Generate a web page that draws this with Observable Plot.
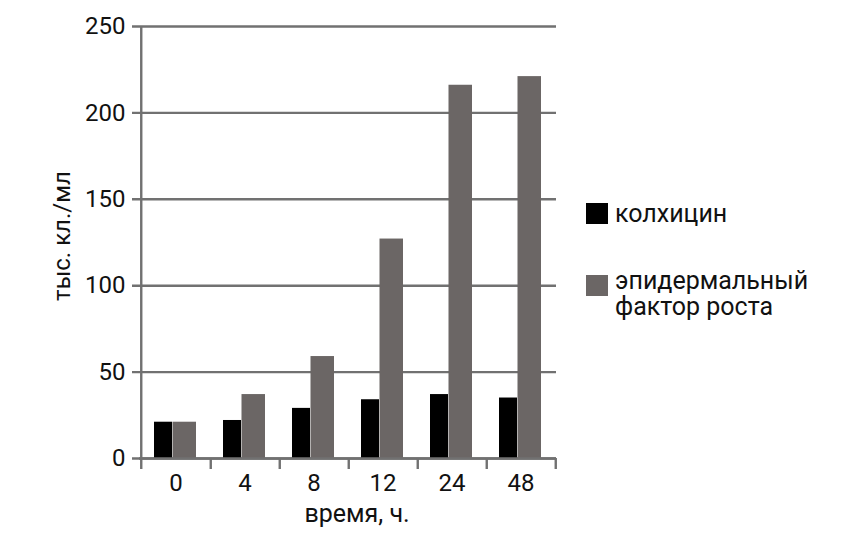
<!DOCTYPE html>
<html>
<head>
<meta charset="utf-8">
<script src="https://cdn.jsdelivr.net/npm/d3@7"></script>
<script src="https://cdn.jsdelivr.net/npm/@observablehq/plot@0.6"></script>
<style>
  html, body { margin: 0; padding: 0; background: #fff; }
  #wrap { position: relative; width: 846px; height: 540px; font-family: Roboto, "Noto Sans", sans-serif; }
  #wrap svg { display: block; }
  .leg { position: absolute; font-size: 25px; color: #111; }
  .sw { position: absolute; }
</style>
</head>
<body>
<div id="wrap"></div>
<script>
const times = ["0", "4", "8", "12", "24", "48"];
const colchicine = [21, 22, 29, 34, 37, 35];
const egf = [21, 37, 59, 127, 216, 221];
const yTicks = [0, 50, 100, 150, 200, 250];
const seriesNames = ["колхицин", "эпидермальный\nфактор роста"];
const seriesColors = ["#000000", "#6b6665"];
const xLabel = "время, ч.";
const yLabel = "тыс. кл./мл";

const W = 846, H = 540;
const mL = 139, mR = 290, mT = 26, mB = 82;
const step = (W - mL - mR) / times.length;
const lineColor = "#717171";
const lw = 2.4;

const rowsA = times.map((t, i) => ({time: t, value: colchicine[i]}));
const rowsB = times.map((t, i) => ({time: t, value: egf[i]}));

const chart = Plot.plot({
  width: W, height: H,
  marginLeft: mL, marginRight: mR, marginTop: mT, marginBottom: mB,
  style: {fontFamily: "Roboto, 'Noto Sans', sans-serif", background: "#fff"},
  x: {domain: times, padding: 0, axis: null},
  y: {domain: [0, 250], axis: null},
  marks: [
    Plot.ruleY(yTicks, {stroke: lineColor, strokeWidth: lw, insetLeft: -7}),
    Plot.barY(rowsA, {x: "time", y: "value", fill: seriesColors[0], insetLeft: 13, insetRight: 38}),
    Plot.barY(rowsB, {x: "time", y: "value", fill: seriesColors[1], insetLeft: 31.5, insetRight: 14}),
    Plot.ruleY([0], {stroke: lineColor, strokeWidth: lw}),
    Plot.ruleX([times[0]], {x: d => d, dx: -step / 2, stroke: lineColor, strokeWidth: lw, insetBottom: -11}),
    Plot.ruleX(times, {x: d => d, y1: 0, y2: 0, dx: step / 2, stroke: lineColor, strokeWidth: lw, insetBottom: -11}),
    Plot.axisY({ticks: yTicks, tickSize: 0, tickPadding: 14, fontSize: 24, fill: "#111", label: null}),
    Plot.axisX({tickSize: 0, tickPadding: 15, fontSize: 24, fill: "#111", label: null}),
    Plot.text([xLabel], {frameAnchor: "bottom", lineAnchor: "middle", textAnchor: "middle", dx: 9, dy: 55, fontSize: 25, fill: "#111", text: d => d}),
    Plot.text([yLabel], {frameAnchor: "left", lineAnchor: "middle", textAnchor: "middle", dx: -77, dy: -6.5, rotate: -90, fontSize: 24, fill: "#111", text: d => d})
  ]
});

const wrap = document.getElementById("wrap");
wrap.appendChild(chart);

// legend
const legendItems = [
  {sw: {left: 586, top: 203, w: 22, h: 21}, text: {left: 615, top: 201}},
  {sw: {left: 586, top: 275, w: 22, h: 21}, text: {left: 615, top: 268}}
];
seriesNames.forEach((name, i) => {
  const it = legendItems[i];
  const s = document.createElement("div");
  s.className = "sw";
  Object.assign(s.style, {left: it.sw.left + "px", top: it.sw.top + "px", width: it.sw.w + "px", height: it.sw.h + "px", background: seriesColors[i]});
  wrap.appendChild(s);
  const t = document.createElement("div");
  t.className = "leg";
  Object.assign(t.style, {left: it.text.left + "px", top: it.text.top + "px", lineHeight: "26px", whiteSpace: "pre"});
  t.textContent = name;
  wrap.appendChild(t);
});
</script>
</body>
</html>
